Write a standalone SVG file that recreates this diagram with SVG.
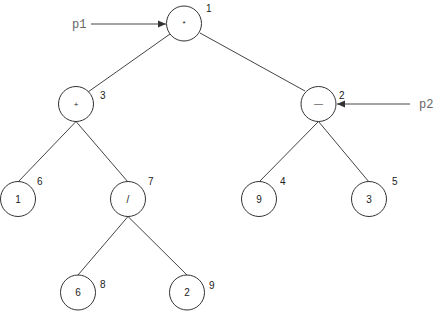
<svg xmlns="http://www.w3.org/2000/svg" width="437" height="311" viewBox="0 0 437 311">
<style>
.n{fill:#fff;stroke:#333;stroke-width:1}
.t{font-family:"Liberation Sans",Arial,sans-serif;font-size:10px;fill:#222;text-anchor:middle;dominant-baseline:central}
.l{font-family:"Liberation Sans",Arial,sans-serif;font-size:10px;fill:#222;dominant-baseline:central}
.e{stroke:#444;stroke-width:1;fill:none}
.p{font-family:"Liberation Mono","Courier New",monospace;font-size:12px;fill:#666}
</style>
<defs>
<marker id="ah" markerWidth="8" markerHeight="8" refX="8" refY="4" orient="auto" markerUnits="userSpaceOnUse">
<path d="M0,0.5 L8,4 L0,7.5 Z" fill="#333"/>
</marker>
</defs>
<rect width="437" height="311" fill="#fff"/>
<g id="connectors">
<line class="e" x1="170" y1="34" x2="88" y2="92"/>
<line class="e" x1="200" y1="33" x2="305" y2="91"/>
<line class="e" x1="76" y1="121.5" x2="18" y2="182"/>
<line class="e" x1="76" y1="121.5" x2="128" y2="182"/>
<line class="e" x1="318.5" y1="121.5" x2="259" y2="182"/>
<line class="e" x1="318.5" y1="121.5" x2="369" y2="182"/>
<line class="e" x1="128" y1="216.5" x2="78" y2="275"/>
<line class="e" x1="128" y1="216.5" x2="187" y2="275"/>
<line class="e" x1="91" y1="24" x2="166" y2="24" marker-end="url(#ah)"/>
<line class="e" x1="410" y1="104" x2="337" y2="104" marker-end="url(#ah)"/>
</g>
<g id="p1"><text class="p" x="72" y="28">p1</text></g>
<g id="p2"><text class="p" x="419" y="108">p2</text></g>
<g id="node1"><circle class="n" cx="184" cy="23.5" r="17.5"/><text class="t" x="184" y="23.5" style="font-size:8px">*</text><text class="l" x="206" y="8.5">1</text></g>
<g id="node2"><circle class="n" cx="318.5" cy="104" r="17.5"/><text class="t" x="318.5" y="104" style="font-size:9px">—</text><text class="l" x="339" y="95">2</text></g>
<g id="node3"><circle class="n" cx="76" cy="104" r="17.5"/><text class="t" x="76" y="104" style="font-size:8px">+</text><text class="l" x="100" y="95">3</text></g>
<g id="node6"><circle class="n" cx="18" cy="199" r="17.5"/><text class="t" x="18" y="199">1</text><text class="l" x="37" y="181.5">6</text></g>
<g id="node7"><circle class="n" cx="128" cy="199" r="17.5"/><text class="t" x="128" y="199">/</text><text class="l" x="148" y="181.5">7</text></g>
<g id="node4"><circle class="n" cx="259" cy="199" r="17.5"/><text class="t" x="259" y="199">9</text><text class="l" x="280" y="181.5">4</text></g>
<g id="node5"><circle class="n" cx="369" cy="199" r="17.5"/><text class="t" x="369" y="199">3</text><text class="l" x="392" y="181.5">5</text></g>
<g id="node8"><circle class="n" cx="78" cy="292.5" r="17.5"/><text class="t" x="78" y="292.5">6</text><text class="l" x="100" y="284">8</text></g>
<g id="node9"><circle class="n" cx="187" cy="292.5" r="17.5"/><text class="t" x="187" y="292.5">2</text><text class="l" x="209" y="285.5">9</text></g>
</svg>
